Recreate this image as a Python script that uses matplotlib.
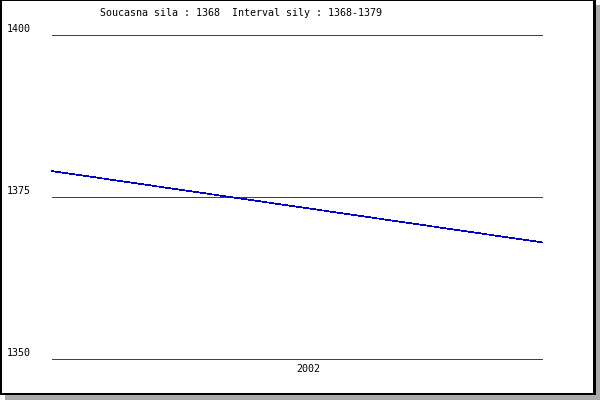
import matplotlib
matplotlib.use("Agg")
import matplotlib.pyplot as plt
from matplotlib.patches import Rectangle
import matplotlib.transforms as mtransforms

# Data
x_vals = [0, 1]
force_vals = [1379, 1368]
y_ticks = [1350, 1375, 1400]
x_tick_pos = [0.522]
x_tick_labels = ["2002"]
title_text = "Soucasna sila : 1368  Interval sily : 1368-1379"

W, H = 600, 400
fig = plt.figure(figsize=(6, 4), dpi=100)
fig.patch.set_facecolor("white")

def px(x0, y0, w, h, color):
    # pixel coords from top-left
    fig.add_artist(Rectangle((x0 / W, 1 - (y0 + h) / H), w / W, h / H,
                             transform=fig.transFigure, facecolor=color,
                             edgecolor="none", zorder=10))

# shadow
px(5, 395, 595, 5, "#aaaaaa")
px(596, 5, 4, 395, "#aaaaaa")
# black border
px(0, 0, 2, 395, "black")
px(0, 393, 596, 2, "black")
px(593, 0, 3, 395, "black")
px(0, 0, 596, 1, "black")

left, right = 52 / W, 542 / W
top, bottom = 1 - 35.0 / H, 1 - 359.0 / H
ax = fig.add_axes([left, bottom, right - left, top - bottom])
ax.set_facecolor("none")
for s in ax.spines.values():
    s.set_visible(False)
ax.set_xlim(0, 1)
ax.set_ylim(1350, 1400)
ax.set_xticks([])
ax.set_yticks([])

for v in y_ticks:
    ax.axhline(v, color="#dd0000", linewidth=0.72, zorder=1,
               antialiased=False, clip_on=False)

ax.plot(x_vals, force_vals, color="#0000cc", linewidth=0.5, zorder=3,
        antialiased=False, clip_on=False)

font = dict(family="DejaVu Sans Mono", size=7.2, color="black")
off = mtransforms.ScaledTranslation(0, 6.5 / 100, fig.dpi_scale_trans)
trans_y = mtransforms.blended_transform_factory(fig.transFigure, ax.transData) + off
for v in y_ticks:
    fig.text(7 / W, v, str(v), transform=trans_y, ha="left", va="center", **font)

trans_x = mtransforms.blended_transform_factory(ax.transAxes, fig.transFigure)
for p, lab in zip(x_tick_pos, x_tick_labels):
    fig.text(p, 1 - 369 / H, lab, transform=trans_x, ha="center", va="center", **font)

fig.text(100 / W, 1 - 13 / H, title_text, ha="left", va="center", **font)

fig.savefig("out.png", dpi=100)
